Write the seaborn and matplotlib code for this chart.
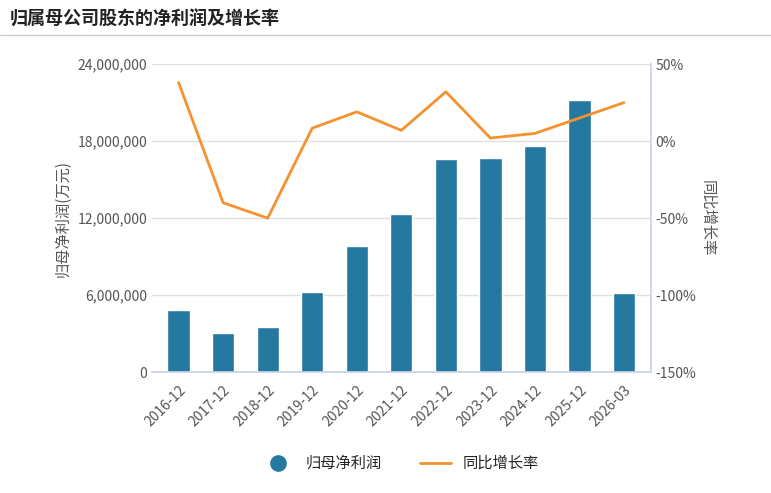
import matplotlib
matplotlib.use("Agg")
import matplotlib.pyplot as plt
import matplotlib.ticker as mticker
from matplotlib.lines import Line2D
from matplotlib.patches import Circle
import seaborn as sns
import pandas as pd

periods = ["2016-12", "2017-12", "2018-12", "2019-12", "2020-12", "2021-12",
           "2022-12", "2023-12", "2024-12", "2025-12", "2026-03"]
profit = [4830000, 3040000, 3500000, 6240000, 9820000, 12300000,
          16600000, 16700000, 17600000, 21200000, 6160000]
growth = [38, -40, -50, 8.4, 19, 7, 32, 2, 5, 15, 25]

sns.set_theme(style="white")
plt.rcParams['font.family'] = ['Noto Sans CJK SC', 'DejaVu Sans']

df = pd.DataFrame({"period": periods, "profit": profit, "growth": growth})

fig = plt.figure(figsize=(7.71, 4.93), dpi=100)
ax = fig.add_axes([0.197, 0.245, 0.647, 0.625])
sns.barplot(data=df, x="period", y="profit", color="#25789f", saturation=1,
            width=0.5, ax=ax)
ax.set_ylim(0, 24000000)
ax.set_yticks(range(0, 24000001, 6000000))
ax.yaxis.set_major_formatter(mticker.FuncFormatter(lambda v, p: f"{int(v):,}"))
ax.yaxis.grid(True, color="#e0e0e0")
ax.set_axisbelow(True)
ax.set_xlabel("")
ax.set_ylabel("归母净利润(万元)", color="#555555", fontsize=11)
ax.tick_params(axis="y", colors="#555555", labelsize=10, length=0)
ax.tick_params(axis="x", colors="#555555", labelsize=10, rotation=45, length=4)
for lab in ax.get_xticklabels():
    lab.set_ha("right")
    lab.set_rotation_mode("anchor")
for s in ["top", "right", "left"]:
    ax.spines[s].set_visible(False)
ax.spines["bottom"].set_color("#c8d4e8")
ax.set_xlim(-0.6, len(periods) - 0.4)

ax2 = ax.twinx()
ax2.plot(range(len(periods)), growth, color="#f5922f", lw=2)
ax2.set_ylim(-150, 50)
ax2.set_yticks(range(-150, 51, 50))
ax2.yaxis.set_major_formatter(mticker.FuncFormatter(lambda v, p: f"{int(v)}%"))
ax2.tick_params(axis="y", colors="#555555", labelsize=10, length=0)
ax2.set_ylabel("同比增长率", color="#555555", fontsize=11, rotation=-90, labelpad=14)
for s in ["top", "left", "bottom"]:
    ax2.spines[s].set_visible(False)
ax2.spines["right"].set_color("#c8d4e8")
ax2.grid(False)

fig.text(0.012, 0.962, "归属母公司股东的净利润及增长率", fontsize=13, fontweight="bold",
         color="#222222", va="center")
fig.add_artist(Line2D([0, 1], [0.928, 0.928], color="#cccccc", lw=1))

handles = [Line2D([], [], marker="o", ls="", color="#25789f", markersize=11),
           Line2D([], [], color="#f5922f", lw=2)]
fig.legend(handles, ["归母净利润", "同比增长率"], loc="center", ncol=2,
           bbox_to_anchor=(0.52, 0.06), frameon=False, fontsize=11,
           columnspacing=2.5)

fig.savefig("out.png", dpi=100)
